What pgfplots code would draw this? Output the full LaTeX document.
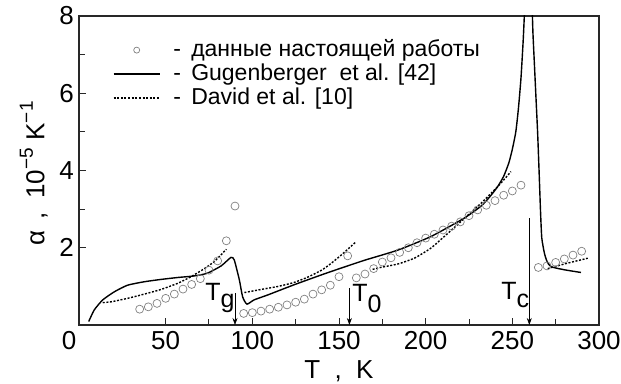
\documentclass[border=0pt]{standalone}
\usepackage{fontspec}
\setmainfont{Liberation Sans}
\usepackage{pgfplots}
\pgfplotsset{compat=1.18}
\usetikzlibrary{arrows.meta}
\definecolor{circ}{RGB}{128,128,128}
\definecolor{axl}{RGB}{40,40,40}
\begin{document}
\begin{tikzpicture}
\begin{axis}[
  at={(0,0)}, anchor=south west,
  scale only axis, width=520pt, height=309pt,
  xmin=0, xmax=300, ymin=0, ymax=8,
  xtick={50,100,150,200,250,300},
  extra x ticks={0}, extra x tick labels={0},
  extra x tick style={xticklabel style={xshift=-10pt}, major tick length=0pt},
  ytick={2,4,6,8},
  minor x tick num=1, minor y tick num=1,
  tick align=inside, tick pos=left,
  major tick length=7pt, minor tick length=6pt,
  axis line style={axl, line width=1.1pt},
  every tick/.style={axl, line width=1pt},
  /pgf/number format/assume math mode=true,
  tick label style={font=\fontsize{26}{30}\selectfont},
  xticklabel style={inner sep=0pt, anchor=north, yshift=-6pt},
  yticklabel style={inner sep=0pt, anchor=east, xshift=-5pt},
  xlabel={T\hspace{0.55em},\hspace{0.55em}K},
  ylabel={α\hspace{0.45em},\hspace{0.5em}10\raisebox{0.45em}{\fontsize{19}{19}\selectfont −5}\hspace{0.3em}K\raisebox{0.45em}{\fontsize{19}{19}\selectfont −1}},
  every axis x label/.style={at={(axis description cs:0.5,-0.172)}, anchor=base, font=\fontsize{26}{30}\selectfont},
  every axis y label/.style={at={(axis description cs:-0.087,0.49)}, anchor=center, rotate=90, font=\fontsize{26}{30}\selectfont},
  legend image code/.code={\draw[#1] (0pt,0pt) -- (46pt,0pt);},
  legend cell align=left,
  legend style={at={(axis cs:19.5,7.4)}, anchor=north west, draw=none, fill=none,
    inner sep=0pt, column sep=13pt, row sep=2.5pt,
    font=\fontsize{23}{26}\selectfont,
    nodes={inner sep=0pt, text height=17.5pt, text depth=4pt}},
]
% present work (circles)
\addplot[only marks, mark=o, mark size=4pt, mark options={circ, line width=0.7pt},
  legend image code/.code={\draw[circ, line width=0.7pt, mark=o, mark size=3pt] plot coordinates {(23pt,0pt)};}]
coordinates {
(35,0.41)(40,0.47)(45,0.56)(50,0.69)(55,0.80)(60,0.93)(65,1.05)(70,1.20)(75,1.42)(80,1.66)(85,2.18)(90,3.08)
(95,0.30)(100,0.32)(105,0.36)(110,0.41)(115,0.46)(120,0.52)(125,0.59)(130,0.67)(135,0.80)(140,0.91)(145,1.03)(150,1.25)
(155,1.79)(160,1.22)(165,1.32)(170,1.46)(175,1.63)(180,1.74)(185,1.88)(190,2.00)(195,2.13)(200,2.25)
(205,2.35)(210,2.46)(215,2.56)(220,2.67)(225,2.83)(230,2.98)(235,3.10)(240,3.22)(245,3.36)(250,3.47)(255,3.62)
(265,1.49)(270,1.53)(275,1.62)(280,1.71)(285,1.81)(290,1.91)
};
\addlegendentry{-\ \,данные настоящей работы}
% Gugenberger
\addplot[black, line width=1.4pt, smooth, tension=0.35] coordinates {
(5.6,0.09)(8.8,0.39)(13.7,0.65)(20.4,0.86)(28,1.03)(37.7,1.12)(47.3,1.18)(57,1.23)(66.5,1.27)(74,1.34)
(82,1.53)(87.7,1.75)(89.6,1.68)(92.5,1.17)(94.4,0.73)(96.9,0.54)(101,0.65)(109,0.78)(124,1.04)(140,1.30)
(151,1.47)(165,1.68)(184,1.94)(203,2.29)(222,2.76)(232,3.08)(237,3.32)(241.5,3.58)(245,3.85)(248,4.2)
(250,4.55)(252,5.0)(253.5,5.6)(255,6.4)(256.3,7.4)(257.2,8.3)(258.5,9.8)(259.5,10.2)(260.5,9.8)(261.4,8.3)
(261.9,7.55)(262.8,6.69)(263.7,5.83)(264.6,4.97)(265.5,3.9)(266.3,2.9)(267,2.25)(268.5,1.86)(270,1.65)(272.3,1.51)(280,1.43)(289.6,1.36)
};
\addlegendentry{-\ \,Gugenberger\ \ et al. [42]}
% David et al.
\addplot[black, line width=1.4pt, dash pattern=on 2pt off 1.6pt, smooth, tension=0.3] coordinates {
(13.7,0.58)(18.5,0.60)(28,0.69)(37.7,0.80)(47.3,0.92)(57,1.08)(64.6,1.25)(72,1.45)(78,1.64)(85,1.96)
};
\addlegendentry{-\ \,David et al. [10]}
\addplot[black, line width=1.4pt, dash pattern=on 2pt off 1.6pt, smooth, tension=0.3, forget plot] coordinates {
(95.4,0.84)(105,0.92)(115,1.00)(124,1.10)(132,1.24)(140,1.42)(145,1.58)(151,1.80)(160,2.16)
};
\addplot[black, line width=1.4pt, dash pattern=on 2pt off 1.6pt, smooth, tension=0.3, forget plot] coordinates {
(169.4,1.44)(174,1.49)(184,1.58)(193.5,1.73)(203,1.99)(212.7,2.37)(222.3,2.76)(231.9,3.15)(241.5,3.58)(249.2,3.97)
};
\addplot[black, line width=1.4pt, dash pattern=on 2pt off 1.6pt, forget plot] coordinates {
(270.4,1.46)(280,1.58)(293.5,1.73)
};
% arrows
\draw[-{Stealth[length=7pt,width=5pt]}, line width=0.6pt] (axis cs:90,0.82) -- (axis cs:90,0);
\draw[-{Stealth[length=7pt,width=5pt]}, line width=0.6pt] (axis cs:156,0.95) -- (axis cs:156,0);
\draw[-{Stealth[length=7pt,width=5pt]}, line width=0.6pt] (axis cs:259.8,2.76) -- (axis cs:259.8,0);
% labels
\node[anchor=base west, inner sep=0pt, font=\fontsize{25}{28}\selectfont] at (axis cs:72.8,0.63) {T\raisebox{-7pt}{g}};
\node[anchor=base west, inner sep=0pt, font=\fontsize{25}{28}\selectfont] at (axis cs:157.6,0.60) {T\raisebox{-11pt}{0}};
\node[anchor=base west, inner sep=0pt, font=\fontsize{25}{28}\selectfont] at (axis cs:243.6,0.65) {T\raisebox{-8pt}{c}};
\end{axis}
\pgfresetboundingbox
\path[use as bounding box] (-79pt,-58pt) rectangle (542pt,325pt);
\end{tikzpicture}
\end{document}
